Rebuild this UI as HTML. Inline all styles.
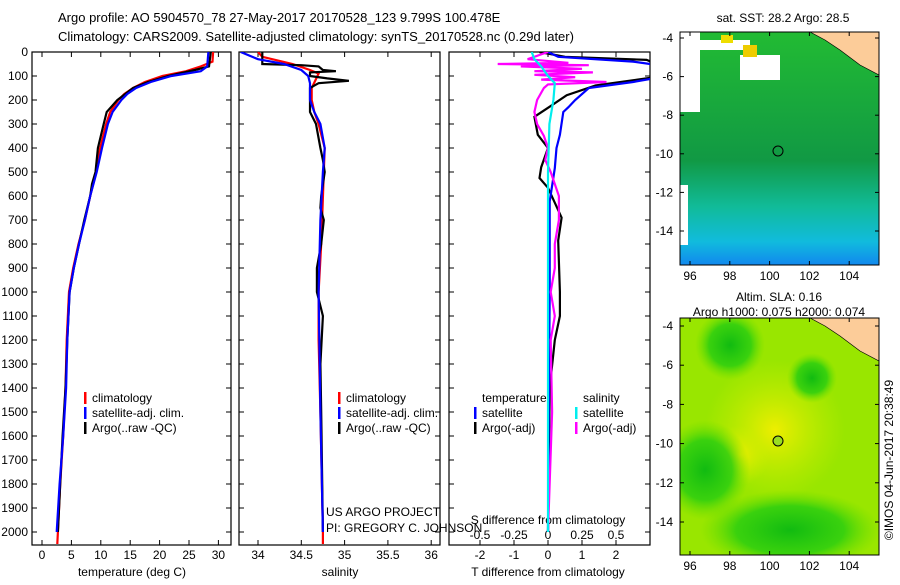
<!DOCTYPE html>
<html><head><meta charset="utf-8"><style>
body{margin:0;background:#fff;width:900px;height:580px;overflow:hidden}
svg{font-family:"Liberation Sans",sans-serif;font-size:12px}
</style></head><body>
<svg id="c" width="900" height="580">
<text x="58" y="22" font-size="13">Argo profile: AO 5904570_78 27-May-2017 20170528_123 9.799S 100.478E</text>
<text x="58" y="41" font-size="13">Climatology: CARS2009. Satellite-adjusted climatology: synTS_20170528.nc (0.29d later)</text>
<text x="783" y="22" text-anchor="middle">sat. SST: 28.2 Argo: 28.5</text>
<text x="779" y="301" text-anchor="middle">Altim. SLA: 0.16</text>
<text x="779" y="316" text-anchor="middle">Argo h1000: 0.075 h2000: 0.074</text>
<text transform="translate(893,460) rotate(-90)" text-anchor="middle">©IMOS 04-Jun-2017 20:38:49</text>
<defs>
<clipPath id="m1"><rect x="680" y="32" width="199" height="233"/></clipPath>
<clipPath id="m2"><rect x="680" y="318" width="199" height="237"/></clipPath>
<linearGradient id="sstg" x1="0" y1="0" x2="0" y2="1">
<stop offset="0" stop-color="#22bb33"/><stop offset="0.55" stop-color="#119944"/><stop offset="0.75" stop-color="#11bb99"/><stop offset="0.9" stop-color="#11bbdd"/><stop offset="1" stop-color="#1188ee"/></linearGradient>
<radialGradient id="dk"><stop offset="0" stop-color="#11bb11"/><stop offset="0.6" stop-color="#22cc11" stop-opacity="0.8"/><stop offset="1" stop-color="#66dd00" stop-opacity="0"/></radialGradient>
<radialGradient id="yl"><stop offset="0" stop-color="#eeee00"/><stop offset="1" stop-color="#ccee00" stop-opacity="0"/></radialGradient>
</defs>
<g clip-path="url(#m1)">
<rect x="680" y="32" width="199" height="233" fill="url(#sstg)"/>
<rect x="680" y="32" width="20" height="80" fill="#fff"/>
<rect x="700" y="40" width="50" height="10" fill="#fff"/>
<rect x="740" y="55" width="40" height="25" fill="#fff"/>
<rect x="680" y="185" width="8" height="60" fill="#fff"/>
<rect x="743" y="45" width="14" height="12" fill="#eecc00"/>
<rect x="721" y="35" width="12" height="8" fill="#eedd00"/>
<path d="M810 32 L879 32 L879 75 L860 65 L840 50 L825 40 Z" fill="#fccc99" stroke="#000" stroke-width="0.7"/>
<circle cx="778" cy="151" r="5" fill="none" stroke="#000"/>
</g>
<rect x="680" y="32" width="199" height="233" fill="none" stroke="#000"/>
<g clip-path="url(#m2)">
<rect x="680" y="318" width="199" height="237" fill="#99e600"/>
<ellipse cx="775" cy="430" rx="70" ry="70" fill="url(#yl)"/>
<ellipse cx="740" cy="455" rx="30" ry="30" fill="url(#yl)"/>
<ellipse cx="730" cy="345" rx="35" ry="35" fill="url(#dk)"/>
<ellipse cx="812" cy="378" rx="25" ry="25" fill="url(#dk)"/>
<ellipse cx="705" cy="470" rx="45" ry="50" fill="url(#dk)"/>
<ellipse cx="790" cy="530" rx="90" ry="40" fill="url(#dk)"/>
<path d="M810 318 L879 318 L879 361 L860 351 L840 336 L825 326 Z" fill="#fccc99" stroke="#000" stroke-width="0.7"/>
<circle cx="778" cy="441" r="5" fill="#99dd22" stroke="#000"/>
</g>
<rect x="680" y="318" width="199" height="237" fill="none" stroke="#000"/>
<g id="plots"></g>
</svg>
<script>
// ----- data -----
const depthTicks=[0,100,200,300,400,500,600,700,800,900,1000,1100,1200,1300,1400,1500,1600,1700,1800,1900,2000];
const tTicks=[0,5,10,15,20,25,30];
const sTicks=[34,34.5,35,35.5,36];
const sTickLabels=["34","34.5","35","35.5","36"];
const dtTicks=[-2,-1,0,1,2];
const dsTicks=[-0.5,-0.25,0,0.25,0.5];
const dsTickLabels=["-0.5","-0.25","0","0.25","0.5"];
const tClimD=[0,40,60,80,100,125,150,175,200,250,300,400,500,600,700,800,900,1000,1200,1400,1600,1800,2000,2050];
const tClim=[29.1,29.0,27,24.5,20.5,17.5,15.5,14,13,11.6,10.9,9.9,9.2,8.2,7.3,6.2,5.3,4.6,4.2,4.0,3.6,3.1,2.7,2.6];
const tSatD=[0,60,80,100,125,150,175,200,250,300,400,500,600,700,800,900,1000,1200,1400,1600,1800,2000];
const tSat=[28.3,28.1,27,22,18.5,16,14.5,13.5,12,11.2,10.2,9.3,8.2,7.3,6.3,5.4,4.7,4.3,4.1,3.6,3.0,2.5];
const tArgoD=[0,60,75,100,125,150,200,250,300,400,500,550,600,700,800,900,1000,1200,1400,1600,1800,2000];
const tArgo=[28.7,28.4,26,21.5,18,15.5,12.8,11,10.5,9.5,9.1,8.5,8.2,7.2,6.3,5.4,4.7,4.3,4.0,3.5,3.1,2.7];
const sClimD=[0,20,50,75,90,150,200,250,300,400,500,700,800,1000,1200,1500,2000,2050];
const sClim=[34.0,34.05,34.4,34.6,34.7,34.62,34.62,34.65,34.7,34.77,34.76,34.74,34.73,34.7,34.7,34.72,34.75,34.75];
const sSatD=[0,30,50,75,100,130,200,250,300,400,500,700,1000,1500,2000];
const sSat=[33.8,34.0,34.3,34.5,34.58,34.6,34.6,34.65,34.72,34.77,34.75,34.72,34.7,34.72,34.75];
const sArgoD=[0,50,55,60,75,80,85,100,110,120,130,140,150,200,250,300,400,450,500,600,650,700,800,900,1000,1100,1300,1500,2000];
const sArgo=[34.05,34.05,34.5,34.7,34.75,34.9,34.6,34.6,34.8,35.05,34.7,34.65,34.6,34.6,34.6,34.67,34.72,34.75,34.77,34.73,34.72,34.76,34.73,34.68,34.68,34.75,34.72,34.73,34.75];
const dtSatD=[0,20,40,60,100,125,150,200,230,250,345,400,484,623,800,1000,1500,2000];
const dtSat=[0,0.3,2.5,3.5,3.5,2.5,1.2,0.8,0.6,0.45,0.35,0.25,0.2,0.05,0.05,0.05,0.02,0];
const dtArgoD=[0,20,33,50,75,100,139,180,228,270,345,400,480,525,566,690,786,1000,1100,1200,1400,2000];
const dtArgo=[-0.25,0.5,2.9,3.2,3.5,3.4,1.4,0.55,0.05,-0.4,-0.3,0,-0.2,-0.25,0,0.4,0.3,0.35,0.35,0.2,0.05,0];
const dsArgoD=[0,10,30,45,50,55,60,70,80,85,95,105,115,125,135,150,200,250,300,350,400,450,500,600,700,800,900,1000,1100,1200,1500,2000];
const dsArgo=[0,-0.05,-0.15,0.15,-0.37,0.3,-0.2,0.25,-0.1,0.33,-0.1,0.2,-0.05,0.43,0,-0.03,-0.08,-0.1,-0.08,-0.03,0,-0.02,0.02,0.08,0.08,0.05,0.05,0.02,0.05,0.02,0.03,0];
const dsSatD=[0,30,60,100,130,200,300,500,2000];
const dsSat=[-0.12,-0.1,-0.05,0,0.05,0.04,0.01,0,0];
// ----- scales -----
const Y=d=>52+d*0.24;
const XT=t=>42+t*5.88;
const XS=s=>258+(s-34)*86.6;
const XDT=v=>548+v*34;
const XDS=v=>548+v*136;
const NS='http://www.w3.org/2000/svg';
const g=document.getElementById('plots');
function mk(tag,attrs,parent){const e=document.createElementNS(NS,tag);for(const k in attrs)e.setAttribute(k,attrs[k]);(parent||g).appendChild(e);return e;}
function line(xs,ds,vals,col,name,clip){
  const pts=ds.map((d,i)=>xs(vals[i]).toFixed(1)+','+Y(d).toFixed(1)).join(' ');
  const p=mk('polyline',{points:pts,fill:'none',stroke:col,'stroke-width':2.2,'clip-path':'url(#'+clip+')'});
  
  
}
const panels=[{x0:32,x1:231,id:'p1'},{x0:239,x1:440,id:'p2'},{x0:449,x1:650,id:'p3'}];
const defs=document.querySelector('defs');
panels.forEach(p=>{
  const c=mk('clipPath',{id:p.id},defs);mk('rect',{x:p.x0,y:52,width:p.x1-p.x0,height:493},c);
  const r=mk('rect',{x:p.x0,y:52,width:p.x1-p.x0,height:493,fill:'none',stroke:'#000','stroke-width':1.2});
  
  
  depthTicks.forEach(d=>{mk('line',{x1:p.x0,x2:p.x0+5,y1:Y(d),y2:Y(d),stroke:'#000'});mk('line',{x1:p.x1,x2:p.x1-5,y1:Y(d),y2:Y(d),stroke:'#000'});});
});
depthTicks.forEach(d=>{const t=mk('text',{x:28,y:Y(d)+4,'text-anchor':'end'});t.textContent=d;
  
  });
function xt(ticks,labels,sc,ly,x0){ticks.forEach((v,i)=>{const x=sc(v);
  mk('line',{x1:x,x2:x,y1:545,y2:540,stroke:'#000'});mk('line',{x1:x,x2:x,y1:52,y2:57,stroke:'#000'});
  const t=mk('text',{x:x,y:ly,'text-anchor':'middle'});t.textContent=labels[i];
  
  });}
xt(tTicks,tTicks.map(String),XT,559);
xt(sTicks,sTickLabels,XS,559);
xt(dtTicks,dtTicks.map(String),XDT,559);
dsTicks.forEach((v,i)=>{const t=mk('text',{x:XDS(v),y:539,'text-anchor':'middle'});t.textContent=dsTickLabels[i];
  
  });
function txt(x,y,s,name,anchor){const t=mk('text',{x:x,y:y,'text-anchor':anchor||'start'});t.textContent=s;
  
  }
txt(132,576,'temperature (deg C)','x-axis-title-temperature','middle');
txt(340,576,'salinity','x-axis-title-salinity','middle');
txt(548,576,'T difference from climatology','x-axis-title-tdiff','middle');
txt(548,524,'S difference from climatology','x-axis-title-sdiff','middle');
txt(326,516,'US ARGO PROJECT','project-label');
txt(326,532,'PI: GREGORY C. JOHNSON','pi-label');
// series
line(XT,tClimD,tClim,'#f00','temp-climatology','p1');
line(XT,tArgoD,tArgo,'#000','temp-argo','p1');
line(XT,tSatD,tSat,'#00f','temp-satellite','p1');
line(XS,sClimD,sClim,'#f00','sal-climatology','p2');
line(XS,sArgoD,sArgo,'#000','sal-argo','p2');
line(XS,sSatD,sSat,'#00f','sal-satellite','p2');
line(XDT,dtArgoD,dtArgo,'#000','tdiff-argo','p3');
line(XDT,dtSatD,dtSat,'#00f','tdiff-satellite','p3');
line(XDS,dsArgoD,dsArgo,'#f0f','sdiff-argo','p3');
line(XDS,dsSatD,dsSat,'#0ee','sdiff-satellite','p3');
// legends
function leg(x,y,col,s,name){mk('rect',{x:x,y:y-10,width:2.5,height:12,fill:col});txt(x+8,y,s,name);}
[[84,'climatology','#f00'],[84,'satellite-adj. clim.','#00f'],[84,'Argo(..raw -QC)','#000']].forEach((l,i)=>leg(l[0],402+i*15,l[2],l[1],'legend-entry'));
[[338,'climatology','#f00'],[338,'satellite-adj. clim.','#00f'],[338,'Argo(..raw -QC)','#000']].forEach((l,i)=>leg(l[0],402+i*15,l[2],l[1],'legend-entry'));
txt(482,402,'temperature','legend-header-temperature');
txt(583,402,'salinity','legend-header-salinity');
leg(474,417,'#00f','satellite','legend-entry');
leg(474,432,'#000','Argo(-adj)','legend-entry');
leg(575,417,'#0ee','satellite','legend-entry');
leg(575,432,'#f0f','Argo(-adj)','legend-entry');
// map axes
function mapAxes(y0,y1,latTop,latBot,name){
  const lats=[-4,-6,-8,-10,-12,-14];
  lats.forEach(l=>{const y=latTop+(l+4)/-10*(latBot-latTop);
    mk('line',{x1:680,x2:684,y1:y,y2:y,stroke:'#000'});mk('line',{x1:879,x2:875,y1:y,y2:y,stroke:'#000'});
    txt(673,y+4,String(l),name+'-lat-label','end');});
  [96,98,100,102,104].forEach(l=>{const x=690+(l-96)*19.9;
    mk('line',{x1:x,x2:x,y1:y1,y2:y1-4,stroke:'#000'});mk('line',{x1:x,x2:x,y1:y0,y2:y0+4,stroke:'#000'});
    txt(x,y1+15,String(l),name+'-lon-label','middle');});
}
mapAxes(32,265,38,231,'sst-map');
mapAxes(318,555,326,522,'sla-map');
</script>
</body></html>
